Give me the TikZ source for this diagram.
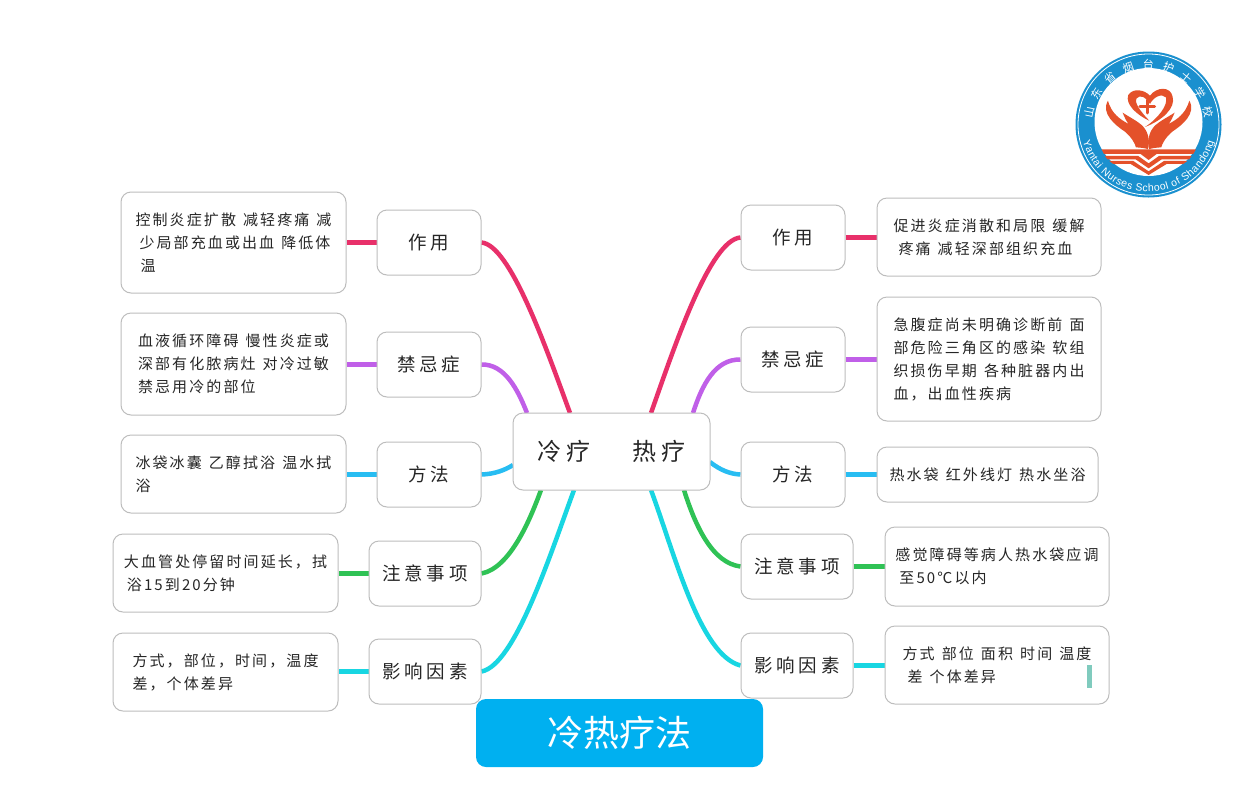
\documentclass[tikz,border=0pt]{standalone}
\usepackage{fontspec}
\usetikzlibrary{backgrounds,decorations.text}
\setmainfont{Noto Sans CJK SC}
\newfontfamily\handfont[LetterSpace=14,WordSpace=1.3]{Noto Sans CJK SC}
\newfontfamily\midfont[LetterSpace=20]{Noto Sans CJK SC}
\newfontfamily\logofont{Liberation Sans}
\newdimen\pxu \pxu=0.02cm
\definecolor{edgegray}{HTML}{BDBDBD}
\definecolor{linkpink}{HTML}{E8306A}
\definecolor{linkpurple}{HTML}{C05FE8}
\definecolor{linkblue}{HTML}{28BDF2}
\definecolor{linkgreen}{HTML}{2FC255}
\definecolor{linkcyan}{HTML}{18D6E2}
\definecolor{titleblue}{HTML}{00B0F0}
\definecolor{logoblue}{HTML}{1A90CF}
\definecolor{logored}{HTML}{E4512A}
\definecolor{barteal}{HTML}{80CBBE}
\tikzset{
  basebox/.style={draw=edgegray,line width=1\pxu,fill=white,rounded corners=10\pxu,inner sep=0pt,text=black!85},
  leafbox/.style 2 args={basebox,minimum width=#1\pxu,minimum height=#2\pxu,align=left,
     font=\handfont\fontsize{15\pxu}{23\pxu}\selectfont},
  midbox/.style 2 args={basebox,minimum width=#1\pxu,minimum height=#2\pxu,align=center,
     font=\midfont\fontsize{18.5\pxu}{22\pxu}\selectfont},
  link/.style={line width=4.5\pxu},
}
\begin{document}
\begin{tikzpicture}[x=0.02cm,y=-0.02cm]
\useasboundingbox (0,0) rectangle (1247,795);
% centre
\node[midbox={197}{77},font=\midfont\fontsize{24\pxu}{28\pxu}\selectfont] (hub) at (611.5,451.5) {冷疗\hspace{42\pxu}热疗};
% left middle
\node[midbox={104}{65}] (ml1) at (429,242.5) {作用};
\node[midbox={104}{65}] (ml2) at (429,364.5) {禁忌症};
\node[midbox={104}{65}] (ml3) at (429,474.5) {方法};
\node[midbox={112}{65}] (ml4) at (425,573.5) {注意事项};
\node[midbox={112}{65}] (ml5) at (425,671.5) {影响因素};
% right middle
\node[midbox={104}{65}] (mr1) at (793,237.5) {作用};
\node[midbox={104}{65}] (mr2) at (793,359.5) {禁忌症};
\node[midbox={104}{65}] (mr3) at (793,474.5) {方法};
\node[midbox={112}{65}] (mr4) at (797,566.5) {注意事项};
\node[midbox={112}{65}] (mr5) at (797,665.5) {影响因素};
% left leaves
\node[leafbox={225}{101}] (ll1) at (233.5,242.5) {控制炎症扩散 减轻疼痛 减\\\hspace*{4\pxu}少局部充血或出血 降低体\\\hspace*{5\pxu}温};
\node[leafbox={225}{102}] (ll2) at (233.5,364) {血液循环障碍 慢性炎症或\\深部有化脓病灶 对冷过敏\\禁忌用冷的部位};
\node[leafbox={225}{78}] (ll3) at (233.5,474) {冰袋冰囊 乙醇拭浴 温水拭\\浴};
\node[leafbox={225}{78}] (ll4) at (225.5,573) {大血管处停留时间延长，拭\\\hspace*{3\pxu}浴15到20分钟};
\node[leafbox={225}{78}] (ll5) at (225.5,672) {方式，部位，时间，温度\\差，个体差异};
% right leaves
\node[leafbox={224}{78}] (lr1) at (989,237) {促进炎症消散和局限 缓解\\\hspace*{5\pxu}疼痛 减轻深部组织充血};
\node[leafbox={224}{124}] (lr2) at (989,359) {急腹症尚未明确诊断前 面\\部危险三角区的感染 软组\\织损伤早期 各种脏器内出\\血，出血性疾病};
\node[leafbox={221}{55}] (lr3) at (987.5,474.5) {热水袋 红外线灯 热水坐浴};
\node[leafbox={224}{79}] (lr4) at (997,566.5) {感觉障碍等病人热水袋应调\\\hspace*{4\pxu}至50℃以内};
\node[leafbox={224}{78}] (lr5) at (997,665) {方式 部位 面积 时间 温度\\\hspace*{5\pxu}差 个体差异};
% ends on the hub
\coordinate (hl1) at (570,413);
\coordinate (hl2) at (527,413);
\coordinate (hl3) at (513,465);
\coordinate (hl4) at (541,490);
\coordinate (hl5) at (574,490);
\coordinate (hr1) at (651,413);
\coordinate (hr2) at (693,413);
\coordinate (hr3) at (710,462);
\coordinate (hr4) at (684,490);
\coordinate (hr5) at (651,490);
\begin{scope}[on background layer]
\fill[white] (0,0) rectangle (1247,795);
\draw[link,linkpink] (ml1.east) .. controls (510,245) and (545,345) .. (hl1);
\draw[link,linkpurple] (ml2.east) .. controls (505,364) and (518,390) .. (hl2);
\draw[link,linkblue] (ml3.east) .. controls (495,474) and (505,470) .. (hl3);
\draw[link,linkgreen] (ml4.east) .. controls (510,568) and (530,520) .. (hl4);
\draw[link,linkcyan] (ml5.east) .. controls (515,665) and (550,555) .. (hl5);
\draw[link,linkpink] (mr1.west) .. controls (710,240) and (675,345) .. (hr1);
\draw[link,linkpurple] (mr2.west) .. controls (715,359) and (702,385) .. (hr2);
\draw[link,linkblue] (mr3.west) .. controls (730,474) and (720,470) .. (hr3);
\draw[link,linkgreen] (mr4.west) .. controls (712,563) and (695,525) .. (hr4);
\draw[link,linkcyan] (mr5.west) .. controls (700,655) and (675,555) .. (hr5);
\draw[link,linkpink] (ml1.west) -- (ml1.west -| ll1.east);
\draw[link,linkpurple] (ml2.west) -- (ml2.west -| ll2.east);
\draw[link,linkblue] (ml3.west) -- (ml3.west -| ll3.east);
\draw[link,linkgreen] (ml4.west) -- (ml4.west -| ll4.east);
\draw[link,linkcyan] (ml5.west) -- (ml5.west -| ll5.east);
\draw[link,linkpink] (mr1.east) -- (mr1.east -| lr1.west);
\draw[link,linkpurple] (mr2.east) -- (mr2.east -| lr2.west);
\draw[link,linkblue] (mr3.east) -- (mr3.east -| lr3.west);
\draw[link,linkgreen] (mr4.east) -- (mr4.east -| lr4.west);
\draw[link,linkcyan] (mr5.east) -- (mr5.east -| lr5.west);
\end{scope}
% title
\node[fill=titleblue,rounded corners=10\pxu,minimum width=287\pxu,minimum height=68\pxu,inner sep=0pt,text=white,
  font=\fontsize{36\pxu}{40\pxu}\selectfont] (title) at (619.5,733) {冷热疗法};
% small bar
\fill[barteal] (1087,665) rectangle (1092,688);
% logo
\fill[logoblue] (1148.5,124.5) circle (73);
\draw[white,line width=0.8\pxu] (1148.5,124.5) circle (70.5);
\fill[white] (1148.5,122) circle (54);
\path[decorate,decoration={text along path,text align={fit to path},
   text={|\fontsize{11\pxu}{12\pxu}\selectfont\color{white}|山东省烟台护士学校}}]
   (1148.5-56,124.5-5.9) arc[start angle=174,end angle=6,radius=56.3,y radius=-56.3];
\path[decorate,decoration={text along path,text align={fit to path},
   text={|\logofont\fontsize{10.5\pxu}{12\pxu}\selectfont\color{white}|Yantai Nurses School of Shandong}}]
   (1148.5-65.5,124.5+17) arc[start angle=195,end angle=345,radius=67.8,y radius=-67.8];
\begin{scope}[x=0.0066667cm,y=-0.0066667cm,shift={(3300,240)}]
  \fill[logored] (150,47) .. controls (135,30) and (100,22) .. (85,45)
     .. controls (75,72) and (110,105) .. (148,122)
     .. controls (122,95) and (102,68) .. (110,55)
     .. controls (120,42) and (140,52) .. (150,72)
     .. controls (160,52) and (185,38) .. (198,52)
     .. controls (205,75) and (175,115) .. (135,141)
     .. controls (185,122) and (228,85) .. (218,50)
     .. controls (212,18) and (170,20) .. (150,47) -- cycle;
  \draw[logored,line width=9\pxu/3,line cap=round] (120,79) -- (164,79) (142,60) -- (142,99);
  \foreach \sx/\ox in {1/0,-1/292}{
  \begin{scope}[xshift=\ox*0.0066667cm,xscale=\sx]
   \fill[logored] (24,62) .. controls (2,100) and (45,135) .. (75,155)
     .. controls (95,172) and (105,190) .. (108,202)
     .. controls (125,203) and (140,205) .. (144,208)
     .. controls (150,185) and (147,155) .. (125,135)
     .. controls (110,122) and (90,112) .. (68,98)
     .. controls (74,112) and (78,122) .. (86,132)
     .. controls (60,118) and (34,100) .. (24,62) -- cycle;
  \end{scope}}
  \fill[logored] (5,208) -- (288,208) -- (280,222) -- (170,222) -- (146,240) -- (122,222) -- (12,222) -- cycle;
  \fill[logored] (15,228) -- (115,228) -- (146,250) -- (177,228) -- (275,228) -- (268,238) -- (185,238) -- (146,265) -- (107,238) -- (22,238) -- cycle;
  \fill[logored] (28,243) -- (100,243) -- (146,274) -- (192,243) -- (262,243) -- (250,252) -- (200,252) -- (146,285) -- (92,252) -- (40,252) -- cycle;
\end{scope}
\end{tikzpicture}
\end{document}
